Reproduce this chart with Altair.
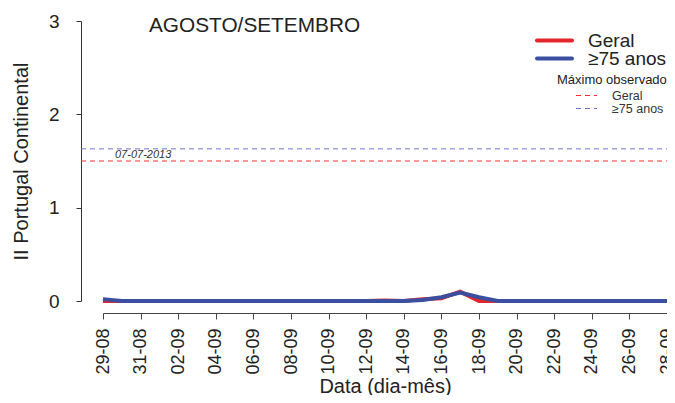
import altair as alt
import pandas as pd

dates = ["29-08", "30-08", "31-08",
         "01-09", "02-09", "03-09", "04-09", "05-09", "06-09", "07-09", "08-09",
         "09-09", "10-09", "11-09", "12-09", "13-09", "14-09", "15-09", "16-09",
         "17-09", "18-09", "19-09", "20-09", "21-09", "22-09", "23-09", "24-09",
         "25-09", "26-09", "27-09", "28-09"]

geral = [0, 0, 0,
         0, 0, 0, 0, 0, 0, 0, 0,
         0, 0, 0, 0, 0.005, 0, 0.02, 0.03,
         0.10, 0.0, 0, 0, 0, 0, 0, 0,
         0, 0, 0, 0]

idosos = [0.02, 0, 0,
          0, 0, 0, 0, 0, 0, 0, 0,
          0, 0, 0, 0, 0, 0, 0.01, 0.04,
          0.09, 0.04, 0, 0, 0, 0, 0, 0,
          0, 0, 0, 0]

tick_labels = ["29-08", "31-08", "02-09", "04-09", "06-09", "08-09", "10-09", "12-09",
               "14-09", "16-09", "18-09", "20-09", "22-09", "24-09", "26-09", "28-09"]

series_names = ["Geral", "≥75 anos"]
series_colors = ["#E3262B", "#3B4FA0"]
max_values = [1.50, 1.63]
max_colors = ["#FF2A2A", "#6F72CC"]
max_date = "07-07-2013"

W, H = 564, 280
FONT = "Liberation Sans"

df = pd.DataFrame({
    "data": dates * 2,
    "serie": [series_names[0]] * len(dates) + [series_names[1]] * len(dates),
    "valor": geral + idosos,
})

one = pd.DataFrame({"k": [0]})

xenc = alt.X("data:O", sort=dates,
             scale=alt.Scale(type="point", padding=0, domain=dates),
             axis=alt.Axis(values=tick_labels, labelAngle=270, labelFontSize=18,
                           labelColor="#222", labelFont=FONT, tickSize=6,
                           labelPadding=9, offset=12, domainColor="#444",
                           tickColor="#444", grid=False,
                           title="Data (dia-mês)", titleFontSize=20,
                           titleFontWeight="normal", titleColor="#222",
                           titleFont=FONT, titleX=282, titleY=79,
                           titleBaseline="alphabetic", titleAlign="center"))
yenc = alt.Y("valor:Q", scale=alt.Scale(domain=[0, 3], nice=False, zero=True),
             axis=alt.Axis(values=[0, 1, 2, 3], format="d", labelFontSize=19,
                           labelColor="#222", labelFont=FONT, tickSize=5,
                           labelPadding=17, offset=22, domainColor="#333",
                           tickColor="#333", grid=False,
                           title="II Portugal Continental", titleFontSize=20,
                           titleFontWeight="normal", titleColor="#222",
                           titleFont=FONT, titleX=-60, titleY=140,
                           titleAngle=270, titleBaseline="middle",
                           titleAlign="center"))

lines = alt.Chart(df).mark_line(strokeWidth=4).encode(
    x=xenc, y=yenc,
    color=alt.Color("serie:N", scale=alt.Scale(domain=series_names, range=series_colors),
                    legend=None),
    order=alt.Order("serie:N", sort="ascending"),
)

layers = [lines]

# maximum observed dashed lines
for v, c in zip(max_values, max_colors):
    layers.append(
        alt.Chart(pd.DataFrame({"v": [v]})).mark_rule(strokeDash=[5, 4], strokeWidth=1, color=c)
        .encode(y=alt.Y("v:Q"), x=alt.value(-22), x2=alt.value(W + 10))
    )

layers.append(
    alt.Chart(one).mark_text(text=max_date, fontSize=11, fontStyle="italic", font=FONT,
                             color="#333", align="left", baseline="middle")
    .encode(x=alt.value(12), y=alt.value(134))
)

# title
layers.append(
    alt.Chart(one).mark_text(text="AGOSTO/SETEMBRO", fontSize=20.8, font=FONT, color="#222",
                             align="left", baseline="alphabetic")
    .encode(x=alt.value(46), y=alt.value(10.5))
)

# legend
LX = 434
for i, (name, col) in enumerate(zip(series_names, series_colors)):
    yy = 19.5 + 18 * i
    layers.append(
        alt.Chart(one).mark_rule(strokeWidth=4, color=col, strokeCap="round")
        .encode(x=alt.value(LX), x2=alt.value(LX + 35), y=alt.value(yy))
    )
    layers.append(
        alt.Chart(one).mark_text(text=name, fontSize=19, font=FONT, color="#222",
                                 align="left", baseline="middle")
        .encode(x=alt.value(LX + 51), y=alt.value(yy))
    )
layers.append(
    alt.Chart(one).mark_text(text="Máximo observado", fontSize=13, font=FONT, color="#222",
                             align="left", baseline="middle")
    .encode(x=alt.value(LX + 20), y=alt.value(58.5))
)
for i, (name, col) in enumerate(zip(series_names, max_colors)):
    yy = 74.5 + 13 * i
    layers.append(
        alt.Chart(one).mark_rule(strokeWidth=1, color=col, strokeDash=[5, 4])
        .encode(x=alt.value(LX + 39), x2=alt.value(LX + 60), y=alt.value(yy))
    )
    layers.append(
        alt.Chart(one).mark_text(text=name, fontSize=12.5, font=FONT, color="#333",
                                 align="left", baseline="middle")
        .encode(x=alt.value(LX + 75), y=alt.value(yy))
    )

chart = alt.layer(*layers).properties(
    width=W, height=H,
    padding={"left": 95, "top": 13, "right": 0, "bottom": 94},
    autosize=alt.AutoSizeParams(type="none"),
).configure(font=FONT, view=alt.ViewConfig(stroke=None))

chart.save("out.html", embed_options={"renderer": "svg", "actions": False})
